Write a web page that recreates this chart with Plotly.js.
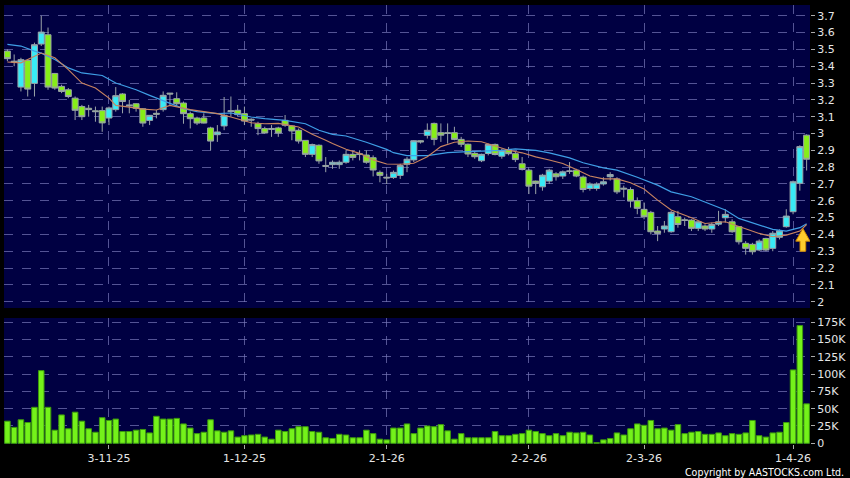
<!DOCTYPE html>
<html>
<head>
<meta charset="utf-8">
<script src="https://cdn.plot.ly/plotly-3.0.1.min.js"></script>
<style>html,body{margin:0;padding:0;background:#000;}#chart{width:850px;height:478px;}</style>
</head>
<body>
<div id="chart"></div>
<script>
const dates = [
"2025-10-10","2025-10-13","2025-10-14","2025-10-15","2025-10-16","2025-10-17","2025-10-20","2025-10-21","2025-10-22","2025-10-23","2025-10-24","2025-10-27","2025-10-28","2025-10-30","2025-10-31",
"2025-11-03","2025-11-04","2025-11-05","2025-11-06","2025-11-07","2025-11-10","2025-11-11","2025-11-12","2025-11-13","2025-11-14","2025-11-17","2025-11-18","2025-11-19","2025-11-20","2025-11-21","2025-11-24","2025-11-25","2025-11-26","2025-11-27","2025-11-28",
"2025-12-01","2025-12-02","2025-12-03","2025-12-04","2025-12-05","2025-12-08","2025-12-09","2025-12-10","2025-12-11","2025-12-12","2025-12-15","2025-12-16","2025-12-17","2025-12-18","2025-12-19","2025-12-22","2025-12-23","2025-12-24","2025-12-29","2025-12-30","2025-12-31",
"2026-01-02","2026-01-05","2026-01-06","2026-01-07","2026-01-08","2026-01-09","2026-01-12","2026-01-13","2026-01-14","2026-01-15","2026-01-16","2026-01-19","2026-01-20","2026-01-21","2026-01-22","2026-01-23","2026-01-26","2026-01-27","2026-01-28","2026-01-29","2026-01-30",
"2026-02-02","2026-02-03","2026-02-04","2026-02-05","2026-02-06","2026-02-09","2026-02-10","2026-02-11","2026-02-12","2026-02-13","2026-02-16","2026-02-20","2026-02-23","2026-02-24","2026-02-25","2026-02-26","2026-02-27",
"2026-03-02","2026-03-03","2026-03-04","2026-03-05","2026-03-06","2026-03-09","2026-03-10","2026-03-11","2026-03-12","2026-03-13","2026-03-16","2026-03-17","2026-03-18","2026-03-19","2026-03-20","2026-03-23","2026-03-24","2026-03-25","2026-03-26","2026-03-27","2026-03-30","2026-03-31",
"2026-04-01","2026-04-02","2026-04-08"
];

const openP = [
3.49,3.43,3.276,3.435,3.298,3.532,3.587,3.357,3.28,3.26,
3.21,3.16,3.15,3.135,3.136,3.092,3.142,3.235,3.17,3.177,
3.147,3.078,3.12,3.142,3.24,3.207,3.181,3.118,3.092,3.092,
3.033,2.993,3.045,3.13,3.138,3.118,3.085,3.058,3.029,3.03,
3.033,3.078,3.045,3.019,2.959,2.876,2.93,2.81,2.815,2.815,
2.829,2.876,2.88,2.872,2.856,2.769,2.74,2.738,2.751,2.817,
2.843,2.957,2.989,3.06,3.005,3.005,3.005,2.965,2.936,2.882,
2.838,2.881,2.935,2.865,2.905,2.88,2.82,2.782,2.717,2.683,
2.717,2.76,2.747,2.775,2.782,2.741,2.673,2.673,2.70,2.743,
2.73,2.675,2.667,2.60,2.549,2.531,2.42,2.432,2.416,2.505,
2.487,2.485,2.436,2.45,2.432,2.461,2.499,2.475,2.446,2.347,
2.341,2.307,2.376,2.317,2.383,2.446,2.535,2.704,2.99
];
const highP = [
3.50,3.47,3.45,3.44,3.54,3.70,3.63,3.36,3.29,3.27,
3.22,3.17,3.17,3.16,3.16,3.16,3.276,3.24,3.20,3.18,
3.15,3.11,3.14,3.25,3.24,3.245,3.19,3.13,3.10,3.12,
3.04,3.05,3.217,3.22,3.17,3.16,3.09,3.07,3.04,3.05,
3.04,3.11,3.05,3.03,2.96,2.94,2.935,2.86,2.84,2.84,
2.90,2.90,2.90,2.90,2.87,2.78,2.76,2.78,2.82,2.86,
2.96,2.96,3.06,3.065,3.06,3.06,3.04,2.98,2.94,2.89,
2.88,2.94,2.94,2.91,2.92,2.89,2.86,2.79,2.72,2.76,
2.79,2.77,2.78,2.83,2.79,2.75,2.71,2.71,2.74,2.77,
2.74,2.69,2.68,2.62,2.59,2.54,2.45,2.48,2.54,2.54,
2.50,2.49,2.48,2.46,2.47,2.54,2.55,2.49,2.45,2.36,
2.35,2.37,2.38,2.42,2.43,2.55,2.72,2.93,2.995
];
const lowP = [
3.43,3.40,3.25,3.22,3.22,3.52,3.26,3.26,3.24,3.21,
3.08,3.08,3.10,3.07,3.01,3.05,3.13,3.12,3.12,3.13,
3.04,3.05,3.09,3.13,3.17,3.16,3.058,3.03,3.05,3.06,
2.90,2.95,3.02,3.10,3.10,3.05,3.04,2.99,3.00,2.98,
2.98,3.04,2.96,2.94,2.86,2.86,2.82,2.77,2.79,2.79,
2.82,2.84,2.84,2.82,2.745,2.71,2.70,2.73,2.73,2.77,
2.83,2.94,2.97,2.93,2.95,2.94,2.96,2.92,2.86,2.85,
2.83,2.87,2.87,2.85,2.87,2.83,2.78,2.64,2.64,2.66,
2.70,2.72,2.73,2.76,2.74,2.65,2.66,2.66,2.69,2.72,
2.64,2.62,2.56,2.52,2.49,2.40,2.36,2.41,2.41,2.44,
2.45,2.42,2.42,2.42,2.41,2.45,2.47,2.41,2.34,2.28,
2.28,2.30,2.30,2.30,2.37,2.44,2.52,2.66,2.78
];
const closeP = [
3.445,3.425,3.439,3.264,3.528,3.603,3.276,3.27,3.25,3.22,
3.138,3.10,3.142,3.13,3.063,3.152,3.225,3.19,3.165,3.15,
3.062,3.108,3.115,3.227,3.235,3.177,3.118,3.088,3.062,3.062,
2.955,3.009,3.108,3.135,3.112,3.074,3.08,3.029,3.003,3.025,
3.003,3.049,3.015,2.955,2.876,2.934,2.837,2.805,2.829,2.829,
2.876,2.858,2.875,2.829,2.783,2.751,2.736,2.769,2.809,2.847,
2.957,2.95,3.019,2.965,2.99,3.0,2.965,2.936,2.878,2.862,
2.876,2.935,2.875,2.90,2.88,2.845,2.786,2.687,2.703,2.752,
2.782,2.743,2.772,2.777,2.747,2.667,2.70,2.70,2.713,2.756,
2.653,2.67,2.598,2.555,2.505,2.416,2.406,2.45,2.531,2.459,
2.483,2.436,2.475,2.432,2.459,2.475,2.519,2.416,2.356,2.317,
2.297,2.36,2.307,2.407,2.422,2.509,2.713,2.922,2.847
];
const volume = [
32000,23000,34000,30000,52000,105000,52000,19000,41000,21000,
45000,32000,21000,16000,37000,33000,35000,17000,17000,19000,
20000,15000,39000,35000,35000,36000,28000,22000,14000,16000,
34000,18000,16000,18000,9000,11000,12000,13000,9000,6000,
19000,17000,21000,24000,24000,17000,16000,8000,7000,13000,
12000,8000,8000,19000,14000,6000,5000,22000,22000,28000,
14000,22000,25000,24000,27000,18000,6000,14000,8000,8000,
8000,8000,17000,11000,11000,13000,14000,19000,17000,14000,
11000,14000,11000,16000,15000,16000,12000,1000,5000,7000,
15000,12000,21000,28000,26000,33000,21000,22000,19000,27000,
14000,16000,17000,13000,13000,15000,11000,14000,13000,15000,
33000,11000,9000,15000,16000,30000,106000,170000,57000
];

const maShortIdx = [0,2,3,5,7,9,11,13,15,16,18,20,22,23,24,27,29,31,33,36,38,40,43,45,47,48,50,52,54,56,58,60,62,64,66,68,70,72,74,76,78,80,82,84,86,88,90,92,94,96,98,101,103,106,108,111,113,115,117,118];
const maShortVal = [3.425,3.42,3.44,3.478,3.45,3.38,3.30,3.27,3.21,3.167,3.157,3.145,3.14,3.155,3.167,3.142,3.128,3.118,3.098,3.064,3.058,3.06,3.039,2.995,2.96,2.94,2.906,2.882,2.843,2.819,2.817,2.823,2.862,2.922,2.948,2.955,2.951,2.925,2.90,2.885,2.861,2.842,2.822,2.786,2.747,2.73,2.73,2.707,2.67,2.604,2.545,2.499,2.465,2.475,2.446,2.406,2.386,2.396,2.42,2.459];
const maLongIdx = [0,2,4,5,7,9,11,14,16,19,21,23,26,28,31,33,36,38,41,44,46,48,50,53,56,57,59,62,65,68,71,73,75,78,80,83,85,88,90,93,96,98,101,103,106,108,111,113,115,117,118];
const maLongVal = [3.53,3.52,3.49,3.478,3.44,3.39,3.36,3.345,3.30,3.26,3.227,3.195,3.148,3.13,3.118,3.122,3.098,3.088,3.078,3.058,3.019,2.995,2.985,2.948,2.906,2.886,2.868,2.868,2.886,2.892,2.895,2.90,2.909,2.90,2.885,2.855,2.826,2.796,2.782,2.74,2.693,2.653,2.624,2.594,2.545,2.495,2.455,2.43,2.42,2.44,2.463];

const xTickVals = ["2025-11-03","2025-12-01","2026-01-02","2026-02-02","2026-03-02","2026-04-01"];
const xTickText = ["3-11-25","1-12-25","2-1-26","2-2-26","2-3-26","1-4-26"];
const priceTicks = [2,2.1,2.2,2.3,2.4,2.5,2.6,2.7,2.8,2.9,3,3.1,3.2,3.3,3.4,3.5,3.6,3.7];
const priceTickText = ["2","2.1","2.2","2.3","2.4","2.5","2.6","2.7","2.8","2.9","3","3.1","3.2","3.3","3.4","3.5","3.6","3.7"];
const volTicks = [0,25000,50000,75000,100000,125000,150000,175000];
const volTickText = ["0","25K","50K","75K","100K","125K","150K","175K"];
// signal arrow (session index position, price of tip / head base / tail)
const signalPos = 117.45;
const signalTip = 2.435, signalHead = 2.36, signalTail = 2.30;

const gridCol = "rgba(120,120,185,0.7)";
const tickFont = {family: "DejaVu Sans, Verdana, sans-serif", size: 11, color: "#e6e6e6"};

const traces = [
  {
    type: "candlestick", x: dates, open: openP, high: highP, low: lowP, close: closeP,
    xaxis: "x2", yaxis: "y",
    increasing: {fillcolor: "#38eaf6", line: {color: "#9aa3a8", width: 1}},
    decreasing: {fillcolor: "#86ee18", line: {color: "#9aa3a8", width: 1}},
    whiskerwidth: 0, hoverinfo: "skip"
  },
  {
    type: "scatter", mode: "lines", x: maLongIdx.map(i => dates[i]), y: maLongVal,
    xaxis: "x2", yaxis: "y", line: {color: "#3f9fe6", width: 1.2}, hoverinfo: "skip"
  },
  {
    type: "scatter", mode: "lines", x: maShortIdx.map(i => dates[i]), y: maShortVal,
    xaxis: "x2", yaxis: "y", line: {color: "#c98460", width: 1.1}, hoverinfo: "skip"
  },
  {
    type: "bar", x: dates, y: volume, xaxis: "x", yaxis: "y2",
    marker: {color: "#74f21a", line: {color: "#3c9a0c", width: 1}}, hoverinfo: "skip"
  }
];

const xCommon = {
  type: "category", range: [-0.5, dates.length - 0.5],
  tickvals: xTickVals, ticktext: xTickText,
  showgrid: true, gridcolor: gridCol, griddash: "dash", gridwidth: 1,
  zeroline: false, showline: false, fixedrange: true,
  rangeslider: {visible: false}
};

const layout = {
  width: 850, height: 478,
  paper_bgcolor: "#000000", plot_bgcolor: "#000042",
  margin: {l: 4, r: 40, t: 5, b: 34},
  showlegend: false,
  bargap: 0.18, boxgap: 0.12, boxgroupgap: 0,
  xaxis: Object.assign({}, xCommon, {
    anchor: "y2", domain: [0, 1],
    ticks: "outside", ticklen: 4, tickcolor: "#aaaaaa", tickfont: tickFont
  }),
  xaxis2: Object.assign({}, xCommon, {
    anchor: "y", domain: [0, 1], matches: "x", showticklabels: false, ticks: ""
  }),
  yaxis: {
    domain: [0.3098, 1], side: "right", anchor: "x2",
    range: [1.9625, 3.764], tickvals: priceTicks, ticktext: priceTickText,
    ticks: "outside", ticklen: 4, tickcolor: "#aaaaaa", tickfont: tickFont,
    showgrid: true, gridcolor: gridCol, griddash: "dash", zeroline: false, fixedrange: true
  },
  yaxis2: {
    domain: [0, 0.287], side: "right", anchor: "x",
    range: [-1000, 181000], tickvals: volTicks, ticktext: volTickText,
    ticks: "outside", ticklen: 4, tickcolor: "#aaaaaa", tickfont: tickFont,
    showgrid: true, gridcolor: gridCol, griddash: "dash", zeroline: false, fixedrange: true
  },
  shapes: [{
    type: "path", xref: "x2", yref: "y",
    path: "M " + (signalPos - 0.42) + "," + signalTail +
          " L " + (signalPos + 0.42) + "," + signalTail +
          " L " + (signalPos + 0.42) + "," + signalHead +
          " L " + (signalPos + 1.05) + "," + signalHead +
          " L " + signalPos + "," + signalTip +
          " L " + (signalPos - 1.05) + "," + signalHead +
          " L " + (signalPos - 0.42) + "," + signalHead + " Z",
    fillcolor: "#ffcc2e", line: {color: "#d08a00", width: 1}
  }],
  annotations: [{
    xref: "paper", yref: "paper", x: 1.0447, y: -0.0635, xanchor: "right", yanchor: "middle",
    text: "Copyright by AASTOCKS.com Ltd.", showarrow: false,
    font: {family: "DejaVu Sans Condensed, DejaVu Sans, sans-serif", size: 10.5, color: "#ffffff"}
  }]
};

Plotly.newPlot("chart", traces, layout, {staticPlot: true, displayModeBar: false});
</script>
</body>
</html>
